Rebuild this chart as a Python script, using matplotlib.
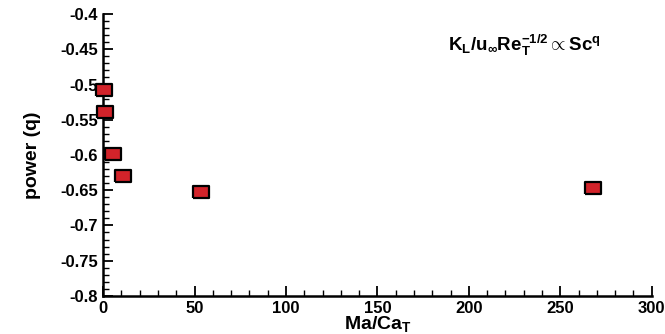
import matplotlib
matplotlib.use("Agg")
import matplotlib.pyplot as plt
from matplotlib.ticker import MultipleLocator

plt.rcParams['font.family'] = ['Liberation Sans', 'DejaVu Sans']
plt.rcParams['font.weight'] = 'bold'
plt.rcParams['mathtext.fontset'] = 'custom'
plt.rcParams['mathtext.rm'] = 'Liberation Sans:bold'
plt.rcParams['mathtext.it'] = 'Liberation Sans:bold'
plt.rcParams['mathtext.bf'] = 'Liberation Sans:bold'

ma_ca = [0.5, 1.0, 5.5, 11, 53.5, 268]
power_q = [-0.508, -0.539, -0.599, -0.630, -0.653, -0.647]

fig = plt.figure(figsize=(6.65, 3.34), dpi=100)
ax = fig.add_axes([0.155, 0.114, 0.825, 0.844])

rect = [(-1, -0.75), (1, -0.75), (1, 0.75), (-1, 0.75), (-1, -0.75)]
ax.plot(ma_ca, power_q, linestyle='none', marker=rect, markersize=11,
        markerfacecolor='#d2232a', markeredgecolor='black', markeredgewidth=1.6,
        clip_on=False, zorder=5)

ax.set_xlim(0, 300)
ax.set_ylim(-0.8, -0.4)
ax.xaxis.set_major_locator(MultipleLocator(50))
ax.xaxis.set_minor_locator(MultipleLocator(10))
ax.yaxis.set_minor_locator(MultipleLocator(0.01))
ax.set_yticks([-0.8, -0.75, -0.7, -0.65, -0.6, -0.55, -0.5, -0.45, -0.4])
ax.set_yticklabels(['-0.8', '-0.75', '-0.7', '-0.65', '-0.6', '-0.55', '-0.5', '-0.45', '-0.4'])

ax.spines['top'].set_visible(False)
ax.spines['right'].set_visible(False)
ax.spines['left'].set_linewidth(1.8)
ax.spines['bottom'].set_linewidth(1.8)
ax.tick_params(which='major', direction='in', length=7, width=1.3, labelsize=12)
ax.tick_params(which='minor', direction='in', length=4, width=1.0)
for lab in ax.get_xticklabels() + ax.get_yticklabels():
    lab.set_fontweight('bold')

ax.set_xlabel('Ma/Ca$_{T}$', fontsize=14, fontweight='bold', labelpad=-1)
ax.set_ylabel('power (q)', fontsize=14, fontweight='bold', labelpad=14)

ax.text(0.628, 0.89, r'K$_{L}$/u$_{\infty}$Re$_{T}^{-1/2}$$\propto$Sc$^{q}$',
        transform=ax.transAxes, fontsize=13.5, fontweight='bold', ha='left', va='center')

fig.savefig('out.png', dpi=100)
